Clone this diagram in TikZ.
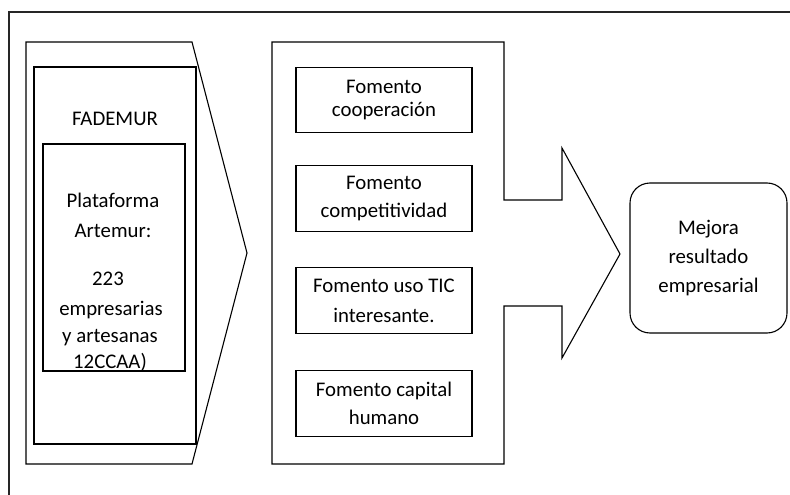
\documentclass[tikz,border=0pt]{standalone}
\usepackage{fontspec}
\setmainfont{Carlito}
\begin{document}
\begin{tikzpicture}[x=1pt,y=-1pt,
  ln/.style={draw=black,line width=1.1pt,line join=miter},
  frameline/.style={draw=black!85,line width=1.6pt},
  txt/.style={font=\fontsize{20.8}{25}\selectfont,inner sep=0pt,anchor=base},
  fbox/.style={ln,rectangle,inner sep=0pt,minimum width=176pt,minimum height=65.5pt,align=center},
]
\useasboundingbox (0,0) rectangle (790,495);
% outer frame (top and left only)
\coordinate (ftr) at (790,12);
\coordinate (ftl) at (9,12);
\coordinate (fbl) at (9,495);
\draw[frameline] (ftr) -- (ftl) -- (fbl);

% left chevron
\draw[ln] (26,42) -- (192,42) -- (247,253) -- (192,464) -- (26,464) -- cycle;
\node[ln,rectangle,inner sep=0pt,minimum width=162pt,minimum height=377pt] (fad) at (115,255.5) {};
\node[txt] (fadt) at (115,125) {FADEMUR};
\node[ln,rectangle,inner sep=0pt,minimum width=142pt,minimum height=227pt] (plat) at (114,257.5) {};
\node[txt] (p1) at (113,207) {Plataforma};
\node[txt] (p2) at (113,237) {Artemur:};
\node[txt] (p3) at (108,285) {223};
\node[txt] (p4) at (111,315) {empresarias};
\node[txt] (p5) at (110,342) {y artesanas};
\node[txt] (p6) at (110,368) {12CCAA)};

% middle arrow shape
\draw[ln] (272,42) -- (504,42) -- (504,200) -- (562,200) -- (562,148) -- (620,254)
  -- (562,358) -- (562,306) -- (504,306) -- (504,464) -- (272,464) -- cycle;

\node[fbox,font=\fontsize{20.8}{23.5}\selectfont] (b1) at (384,100) {Fomento\\cooperación};
\node[fbox,font=\fontsize{20.8}{28}\selectfont] (b2) at (384,198.5) {Fomento\\competitividad};
\node[fbox,font=\fontsize{20.8}{30}\selectfont] (b3) at (384,300.5) {Fomento uso TIC\\interesante.};
\node[fbox,font=\fontsize{20.8}{28}\selectfont] (b4) at (384,403.5) {Fomento capital\\humano};

% result box
\node[ln,rectangle,rounded corners=20pt,inner sep=0pt,minimum width=157pt,minimum height=150pt,
  align=center,font=\fontsize{20.8}{29}\selectfont] (res) at (708.5,258) {Mejora\\resultado\\empresarial};
\end{tikzpicture}
\end{document}
